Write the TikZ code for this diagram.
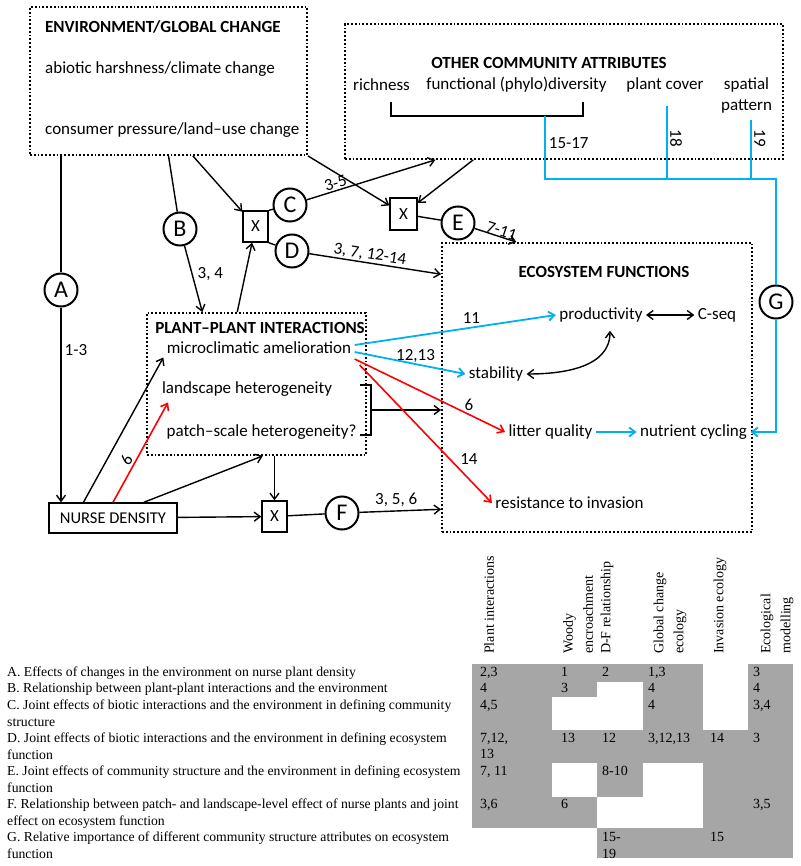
\documentclass[tikz,border=0pt]{standalone}
\usepackage{fontspec}
\setmainfont{Carlito}
\newfontfamily\tabfont{Liberation Serif}
\usepackage{tikz}
\usetikzlibrary{arrows.meta,calc}
\definecolor{linkblue}{RGB}{0,176,240}
\definecolor{linkred}{RGB}{255,0,0}
\definecolor{tabgray}{RGB}{166,166,166}

\begin{document}
\begin{tikzpicture}[x=1pt, y=1pt,
  >={Straight Barb[length=6pt,width=9pt]},
  every node/.style = {font=\fontsize{17}{20}\selectfont},
  dotbox/.style   = {draw, dotted, line width=1.8pt, inner sep=0pt},
  letter/.style   = {circle, draw, line width=2pt, minimum size=33pt,
                     inner sep=0pt, font=\fontsize{24}{26}\selectfont},
  xbox/.style     = {draw, line width=1.4pt, inner sep=0pt,
                     font=\fontsize{17}{19}\selectfont},
  head/.style     = {font=\bfseries\fontsize{17}{20}\selectfont},
  link/.style     = {line width=1.4pt},
  bluelink/.style = {line width=1.8pt, draw=linkblue},
  redlink/.style  = {line width=1.6pt, draw=linkred},
  tabrow/.style   = {font=\tabfont\fontsize{13.7}{16.55}\selectfont,
                     align=left, inner sep=0pt, anchor=north west},
  colhead/.style  = {font=\tabfont\fontsize{14}{20}\selectfont,
                     rotate=90, anchor=west, align=left, inner sep=0pt},
  cellno/.style   = {font=\tabfont\fontsize{14}{16}\selectfont,
                     anchor=base west, inner sep=0pt}
  ]
  \useasboundingbox (0,0) rectangle (800,-866);

  % boxes
  \node[dotbox, minimum width=277pt, minimum height=148pt] (env) at (168.5,-81) {};
  \node[dotbox, minimum width=438pt, minimum height=135pt] (other) at (564,-91.5) {};
  \node[dotbox, minimum width=310pt, minimum height=289pt] (eco) at (597,-387.5) {};
  \node[dotbox, minimum width=219pt, minimum height=142pt] (ppi) at (256.5,-384) {};
  \node[draw, line width=1.4pt, minimum width=128pt, minimum height=30pt, inner sep=0pt,
        font=\fontsize{16.5}{18}\selectfont] (nurse) at (113,-518) {NURSE DENSITY};

  \node[head, anchor=west, inner sep=0pt] (envtitle) at (45,-27) {ENVIRONMENT/GLOBAL CHANGE};
  \node[anchor=west, inner sep=0pt] (abiotic) at (45,-69) {abiotic harshness/climate change};
  \node[anchor=west, inner sep=0pt] (consumer) at (45,-130) {consumer pressure/land--use change};

  \node[head] (othtitle) at (549,-63) {OTHER COMMUNITY ATTRIBUTES};
  \node (rich) at (381.5,-85) {richness};
  \node (fdiv) at (516.5,-85) {functional (phylo)diversity};
  \node (cover) at (665,-85) {plant cover};
  \node[align=center, inner sep=0pt, font=\fontsize{17}{21}\selectfont] (spat) at (746.5,-95.5) {spatial\\pattern};

  \node[head] (ecotitle) at (604,-272) {ECOSYSTEM FUNCTIONS};
  \node (prod) at (601,-315) {productivity};
  \node (cseq) at (717,-315) {C-seq};
  \node (stab) at (496,-374) {stability};
  \node (litter) at (550.5,-432) {litter quality};
  \node (nutr) at (693.5,-432) {nutrient cycling};
  \node (resist) at (569.5,-503) {resistance to invasion};

  \node[head] (ppititle) at (260,-328) {PLANT--PLANT INTERACTIONS};
  \node (micro) at (259,-348) {microclimatic amelioration};
  \node (land) at (247,-389) {landscape heterogeneity};
  \node (patch) at (261.5,-432) {patch--scale heterogeneity?};

  \node[xbox, minimum width=25pt, minimum height=31pt] (xa) at (255.5,-226.5) {X};
  \node[xbox, minimum width=27pt, minimum height=32pt] (xb) at (403.5,-214) {X};
  \node[xbox, minimum width=25pt, minimum height=31pt] (xc) at (274.5,-516.5) {X};

  \node[letter] (A) at (61,-290) {A};
  \node[letter] (B) at (180,-229) {B};
  \node[letter] (C) at (290,-205) {C};
  \node[letter] (D) at (292,-251) {D};
  \node[letter] (E) at (458,-223) {E};
  \node[letter] (F) at (342,-513) {F};
  \node[letter] (G) at (776,-302) {G};

  % connectors
  \draw[link] (env.south -| A) -- (A);
  \draw[link,->] (A) -- node[right, pos=0.22, inner sep=3pt] (l13) {1-3} (A |- nurse.north);
  \draw[link] (env.south) -- (B);
  \draw[link,->] (B) -- node[right, pos=0.42, inner sep=5pt] (l34) {3, 4} (ppi.127);
  \draw[link,->] (env.-72) -- (xa);
  \draw[link,->] (ppi.105) -- (xa);
  \draw[link] (xa.north east) -- (C);
  \draw[link] (xa.south east) -- (D);
  \draw[link,->] (C) -- node[sloped, above, pos=0.24, inner sep=1pt] (l35) {3-5} (other.208);
  \draw[link,->] (D) -- node[sloped, above, pos=0.45, inner sep=1pt] (l37) {3, 7, 12-14} (eco.144);
  \draw[link,->] (env.south east) -- (xb);
  \draw[link,->] (other.217) -- (xb);
  \draw[link] (xb) -- (E);
  \draw[link,->] (E) -- node[sloped, above, pos=0.6, inner sep=0pt] (l711) {7-11} (eco.119);

  \draw[link,->] (nurse.152) -- (micro.south west);
  \draw[redlink,->] (nurse.north) -- node[sloped, above, pos=0.38, inner sep=2pt] (l6a) {6}
    ([shift={(9.5,-2.5)}]land.south west);
  \draw[link,->] (nurse.27) -- (ppi.-85);
  \draw[link,->] (nurse) -- (xc);
  \draw[link,->] (ppi.south -| xc) -- (xc);
  \draw[link] (xc) -- (F);
  \draw[link,->] (F) -- node[above, pos=0.45] (l356) {3, 5, 6} (eco.218);

  \draw[link] (360,-385) -- (371,-385) -- (371,-435) -- (360,-435);
  \coordinate (brk) at (371,-410);
  \draw[link,->] (brk) -- (brk -| eco.west);

  \draw[bluelink,->] ([yshift=3pt]micro.east) -- node[above, pos=0.58, inner sep=3pt] (l11) {11} (prod.west);
  \draw[bluelink,->] ([yshift=-4pt]micro.east) -- node[above, pos=0.55, inner sep=1pt] (l1213) {12,13} (stab.west);
  \draw[redlink,->] ([yshift=-11pt]micro.east) -- node[above, pos=0.76] (l6b) {6} (litter.west);
  \draw[redlink,->] ([shift={(5pt,-17pt)}]micro.east) -- node[above right, pos=0.74, inner sep=2pt] (l14) {14} (resist.west);

  \draw[link,<->] (prod) -- (cseq);
  \draw[link,<->] (stab.east) to[out=0, in=-90] ([shift={(9pt,-5pt)}]prod.south);
  \draw[bluelink,->] (litter) -- (nutr);

  \draw[link] (391,-102) -- (391,-116) -- (583,-116) -- (583,-102);
  \coordinate (brc) at (545,-116);
  \coordinate (bus) at (545,-179);
  \draw[bluelink] (brc) -- node[right, pos=0.43, inner sep=3pt] (l1517) {15-17} (bus) -| (G.north);
  \draw[bluelink] ([shift={(2pt,-10pt)}]cover.south) coordinate (cv) -- (cv |- bus);
  \draw[bluelink] ([shift={(4.5pt,-7pt)}]spat.south) coordinate (sp) -- (sp |- bus);
  \node[rotate=-90] (l18) at (676,-138) {18};
  \node[rotate=-90] (l19) at (760,-138) {19};
  \draw[bluelink,->] (G.south) |- (nutr.east);

  % table
  \fill[tabgray] (472,-664) rectangle (793,-858);
  \fill[white] (703,-664) rectangle (748,-730);
  \fill[white] (597,-682) rectangle (643,-730);
  \fill[white] (552,-697) rectangle (597,-730);
  \fill[white] (552,-763) rectangle (597,-797);
  \fill[white] (643,-763) rectangle (703,-797);
  \fill[white] (597,-797) rectangle (703,-828);
  \fill[white] (472,-828) rectangle (597,-858);

  \node[colhead] (hP) at (489,-654) {Plant interactions};
  \node[colhead] (hW) at (578,-654) {Woody\\encroachment};
  \node[colhead] (hD) at (607,-654) {D-F relationship};
  \node[colhead] (hG) at (670,-654) {Global change\\ecology};
  \node[colhead] (hI) at (720,-654) {Invasion ecology};
  \node[colhead] (hE) at (777,-654) {Ecological\\modelling};

  \node[tabrow] (rows) at (7,-666.5) {%
    A. Effects of changes in the environment on nurse plant density\\
    B. Relationship between plant-plant interactions and the environment\\
    C. Joint effects of biotic interactions and the environment in defining community\\
    structure\\
    D. Joint effects of biotic interactions and the environment in defining ecosystem\\
    function\\
    E. Joint effects of community structure and the environment in defining ecosystem\\
    function\\
    F. Relationship between patch- and landscape-level effect of nurse plants and joint\\
    effect on ecosystem function\\
    G. Relative importance of different community structure attributes on ecosystem\\
    function};

  \node[cellno] (aP) at (480,-676) {2,3};
  \node[cellno] (aW) at (561,-676) {1};
  \node[cellno] (aD) at (602,-676) {2};
  \node[cellno] (aG) at (648,-676) {1,3};
  \node[cellno] (aE) at (753,-676) {3};
  \node[cellno] (bP) at (480,-692.6) {4};
  \node[cellno] (bW) at (561,-692.6) {3};
  \node[cellno] (bG) at (648,-692.6) {4};
  \node[cellno] (bE) at (753,-692.6) {4};
  \node[cellno] (cP) at (480,-709.1) {4,5};
  \node[cellno] (cG) at (648,-709.1) {4};
  \node[cellno] (cE) at (753,-709.1) {3,4};
  \node[cellno] (dP) at (480,-742.2) {7,12,};
  \node[cellno] (dP2) at (480,-758.8) {13};
  \node[cellno] (dW) at (561,-742.2) {13};
  \node[cellno] (dD) at (602,-742.2) {12};
  \node[cellno] (dG) at (648,-742.2) {3,12,13};
  \node[cellno] (dI) at (710,-742.2) {14};
  \node[cellno] (dE) at (753,-742.2) {3};
  \node[cellno] (eP) at (480,-775.3) {7, 11};
  \node[cellno] (eD) at (602,-775.3) {8-10};
  \node[cellno] (fP) at (480,-808.4) {3,6};
  \node[cellno] (fW) at (561,-808.4) {6};
  \node[cellno] (fE) at (753,-808.4) {3,5};
  \node[cellno] (gD) at (602,-841.5) {15-};
  \node[cellno] (gD2) at (602,-858) {19};
  \node[cellno] (gI) at (710,-841.5) {15};
\end{tikzpicture}
\end{document}
